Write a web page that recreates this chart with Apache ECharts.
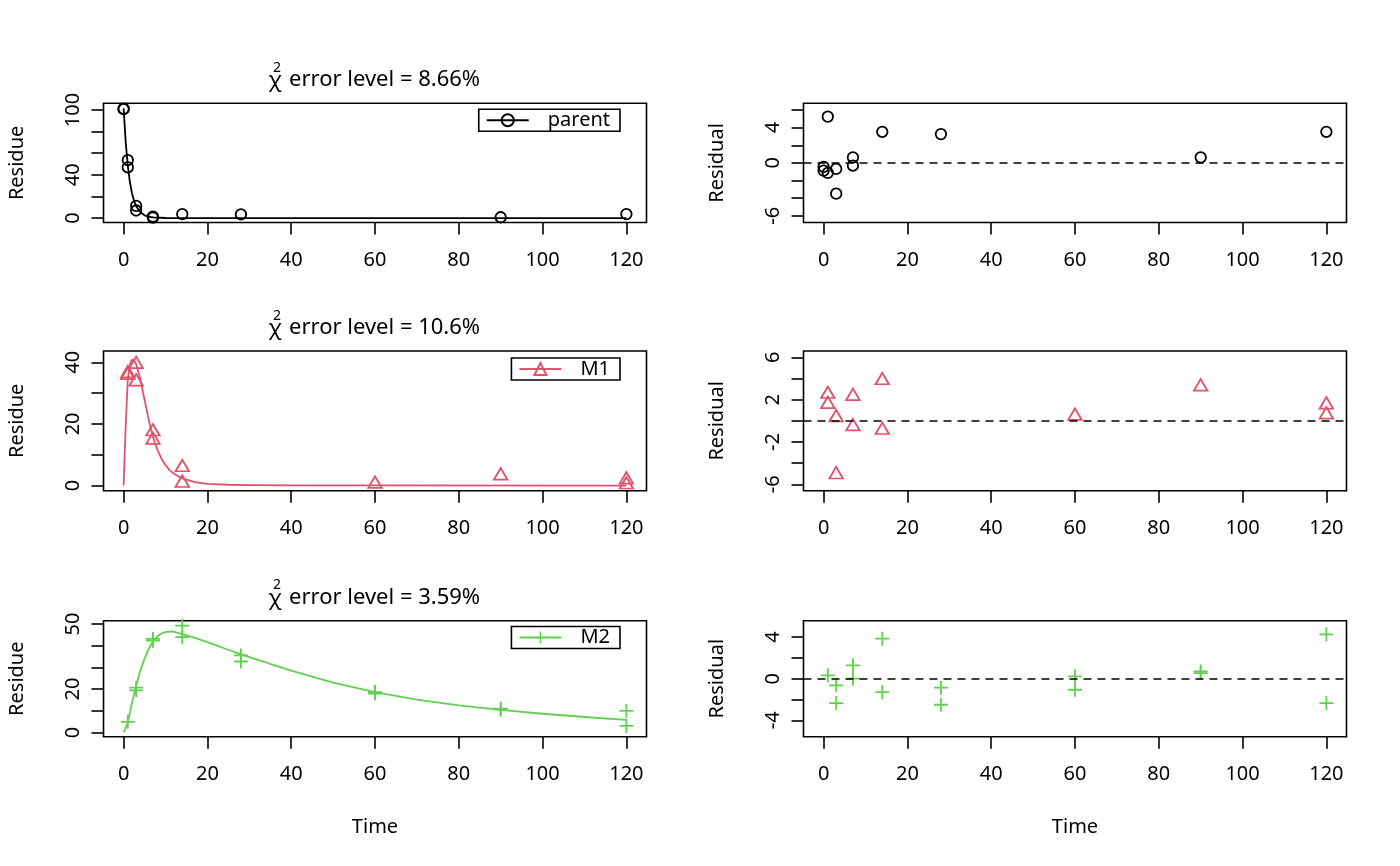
<!DOCTYPE html>
<html><head><meta charset="utf-8">
<script src="https://cdn.jsdelivr.net/npm/echarts@6/dist/echarts.min.js"></script>
<style>html,body{margin:0;padding:0;background:#fff}#c{width:1400px;height:866px}</style>
</head><body><div id="c"></div>
<script>
// ---------------- data ----------------
const parentObsT = [0, 0, 1, 1, 3, 3, 7, 7, 14, 28, 90, 120];
const parentObsV = [101.2, 100.8, 53.7, 47.0, 11.3, 7.0, 1.3, 0.5, 3.7, 3.5, 0.8, 3.7];
const parentRes  = [-0.45, -0.87, 5.25, -1.13, -0.68, -3.49, 0.63, -0.3, 3.53, 3.27, 0.63, 3.53];
const parentFitT = [0, 0.5, 1, 1.5, 2, 2.5, 3, 4, 5, 6, 7, 10, 14, 20, 120];
const parentFitV = [101.6, 70, 48.3, 33.3, 23, 15.9, 11, 5.3, 2.6, 1.25, 0.65, 0.1, 0.02, 0, 0];

const m1ObsT = [1, 1, 3, 3, 7, 7, 14, 14, 60, 90, 120, 120];
const m1ObsV = [37.0, 36.4, 40.0, 34.3, 18.1, 15.4, 6.5, 1.4, 1.1, 3.8, 2.5, 0.9];
const m1Res  = [2.7, 1.75, 0.5, -4.9, 2.5, -0.35, 4.0, -0.7, 0.63, 3.4, 1.7, 0.75];
const m1FitT = [0, 0.5, 1, 1.5, 2, 2.5, 3, 4, 5, 6, 7, 8, 9, 10, 11, 12, 14, 17, 20, 25, 30, 40, 60, 120];
const m1FitV = [0, 19.5, 34.5, 39.5, 40.8, 40.6, 39.4, 34.5, 27.8, 21.3, 15.8, 11.8, 8.8, 6.6, 5.0, 3.8, 2.3, 1.1, 0.55, 0.25, 0.12, 0.05, 0.02, 0];

const m2ObsT = [1, 3, 3, 7, 7, 14, 14, 28, 28, 60, 60, 90, 90, 120, 120];
const m2ObsV = [4.9, 20.6, 19.4, 43.1, 42.3, 49.2, 43.9, 35.5, 32.7, 18.6, 17.9, 10.9, 10.6, 9.9, 3.0];
const m2Res  = [0.32, -0.64, -2.34, 1.28, 0, 3.84, -1.29, -0.86, -2.5, 0.22, -1.06, 0.7, 0.54, 4.26, -2.34];
const m2FitT = [0, 1, 2, 3, 4, 5, 6, 7, 8, 9, 10, 11.7, 14, 17, 20, 24, 28, 35, 40, 50, 60, 70, 80, 90, 100, 110, 120];
const m2FitV = [0, 4.4, 13.6, 21.5, 28.5, 34.0, 38.5, 42.0, 44.2, 45.6, 46.3, 46.6, 45.3, 43.6, 41.6, 38.8, 36.0, 31.6, 28.5, 23.0, 18.6, 15.1, 12.5, 10.4, 8.6, 7.1, 5.8];

const compounds = ['parent', 'M1', 'M2'];
const errorLevels = ['8.66%', '10.6%', '3.59%'];

const xTicks = [0, 20, 40, 60, 80, 100, 120];
const yTicks = [
  [0, 20, 40, 60, 80, 100], [-6, -4, -2, 0, 2, 4, 6],
  [0, 10, 20, 30, 40],       [-6, -4, -2, 0, 2, 4, 6],
  [0, 10, 20, 30, 40, 50],   [-4, -2, 0, 2, 4]
];
const yTickLabels = [
  [0, 40, 100], [-6, 0, 4],
  [0, 20, 40],  [-6, -2, 2, 6],
  [0, 20, 50],  [-4, 0, 4]
];

// ---------------- layout / style ----------------
const FONT = 'Noto Sans';
const BLACK = '#000000', RED = '#DF536B', GREEN = '#61D04F';
const colors = [BLACK, RED, GREEN];
const PLUS = 'path://M0,6.1H14V7.9H0Z M6.1,0H7.9V14H6.1Z';

const grids = [
  {left: 103.5, top: 103.3, width: 543, height: 119.2},
  {left: 803.5, top: 103.3, width: 543, height: 119.2},
  {left: 103.5, top: 351,   width: 543, height: 139.7},
  {left: 803.5, top: 351,   width: 543, height: 139.7},
  {left: 103.5, top: 620.7, width: 543, height: 116},
  {left: 803.5, top: 620.7, width: 543, height: 116}
];
const yRanges = [[-4.08, 106.2], [-6.76, 6.76], [-1.68, 43.68], [-6.6, 6.6], [-1.98, 51.5], [-5.57, 5.57]];

const zip = (a, b) => a.map((t, k) => [t, b[k]]);
const obsT = [parentObsT, m1ObsT, m2ObsT];
const obsV = [parentObsV, m1ObsV, m2ObsV];
const resV = [parentRes, m1Res, m2Res];
const fitT = [parentFitT, m1FitT, m2FitT];
const fitV = [parentFitV, m1FitV, m2FitV];

function markerStyle(i) {
  if (i === 0) return {symbol: 'circle', symbolSize: 10.5, itemStyle: {color: 'rgba(0,0,0,0)', borderColor: BLACK, borderWidth: 1.8, opacity: 1}};
  if (i === 1) return {symbol: 'triangle', symbolSize: [13.5, 11.5], itemStyle: {color: 'rgba(0,0,0,0)', borderColor: RED, borderWidth: 1.8, opacity: 1}};
  return {symbol: PLUS, symbolSize: 14, itemStyle: {color: GREEN, borderWidth: 0, opacity: 1}};
}

const txt = {fontFamily: FONT, fontSize: 20, color: BLACK};

const option = {
  animation: false,
  backgroundColor: '#ffffff',
  grid: grids.map(g => Object.assign({show: true, borderColor: BLACK, borderWidth: 1.6, backgroundColor: 'transparent', containLabel: false}, g)),
  xAxis: grids.map((g, i) => ({
    gridIndex: i, type: 'value', min: -4.8, max: 124.8, position: 'bottom',
    axisLine: {show: false, onZero: false},
    axisTick: {show: true, length: 12, lineStyle: {color: BLACK, width: 1.6}, customValues: xTicks},
    axisLabel: Object.assign({customValues: xTicks, margin: 28}, txt),
    splitLine: {show: false},
    name: i >= 4 ? 'Time' : '', nameLocation: 'middle', nameGap: 81,
    nameTextStyle: txt
  })),
  yAxis: grids.map((g, i) => ({
    gridIndex: i, type: 'value', min: yRanges[i][0], max: yRanges[i][1], position: 'left',
    axisLine: {show: false, onZero: false},
    axisTick: {show: true, length: 12, lineStyle: {color: BLACK, width: 1.6}, customValues: yTicks[i]},
    axisLabel: Object.assign({customValues: yTickLabels[i], margin: 20, rotate: 90}, txt),
    splitLine: {show: false},
    name: i % 2 === 0 ? 'Residue' : 'Residual', nameLocation: 'middle', nameGap: 76,
    nameTextStyle: txt
  })),
  legend: compounds.map((c, i) => ({
    data: [c], selectedMode: false, orient: 'horizontal',
    right: 780, top: grids[2 * i].top + 0.05 * grids[2 * i].height,
    borderColor: BLACK, borderWidth: 1.6, borderRadius: 0,
    padding: [1, 10, 1, 7], itemWidth: 42, itemHeight: 15, itemGap: 0,
    textStyle: Object.assign({padding: [0, 0, 0, 14], lineHeight: 20}, txt)
  })),
  series: [],
  graphic: []
};

compounds.forEach((c, i) => {
  const gl = 2 * i, gr = 2 * i + 1;
  const m = markerStyle(i);
  option.series.push(Object.assign({
    type: 'scatter', name: c + ' observed', xAxisIndex: gl, yAxisIndex: gl,
    data: zip(obsT[i], obsV[i]), silent: true, z: 3
  }, m));
  option.series.push({
    type: 'line', name: c + ' fitted', xAxisIndex: gl, yAxisIndex: gl,
    data: zip(fitT[i], fitV[i]), symbol: 'none', showSymbol: false, smooth: false,
    lineStyle: {color: colors[i], width: 1.8, join: 'round'}, silent: true, z: 2
  });
  option.series.push(Object.assign({
    type: 'line', name: c, xAxisIndex: gl, yAxisIndex: gl, data: [],
    lineStyle: {color: colors[i], width: 1.8}
  }, m));
  option.series.push(Object.assign({
    type: 'scatter', name: c + ' residual', xAxisIndex: gr, yAxisIndex: gr,
    data: zip(obsT[i], resV[i]), silent: true, z: 3,
    markLine: {
      silent: true, symbol: 'none', label: {show: false},
      lineStyle: {color: BLACK, width: 1.6, type: [8, 6]},
      data: [{yAxis: 0}]
    }
  }, m));

  // title: chi^2 error level = ...
  const ty = grids[gl].top - 23.3;
  option.graphic.push({
    type: 'text', x: 275, y: ty + 1, silent: true,
    style: {text: 'χ', fontFamily: FONT, fontSize: 22, fill: BLACK, align: 'center', verticalAlign: 'middle'}
  });
  option.graphic.push({
    type: 'text', x: 277, y: ty - 12, silent: true,
    style: {text: '2', fontFamily: FONT, fontSize: 14, fill: BLACK, align: 'center', verticalAlign: 'middle'}
  });
  option.graphic.push({
    type: 'text', x: 289, y: ty, silent: true,
    style: {text: 'error level = ' + errorLevels[i], fontFamily: FONT, fontSize: 22, fill: BLACK, align: 'left', verticalAlign: 'middle'}
  });
});

const chart = echarts.init(document.getElementById('c'), null, {renderer: 'canvas'});
chart.setOption(option);
</script>
</body></html>
